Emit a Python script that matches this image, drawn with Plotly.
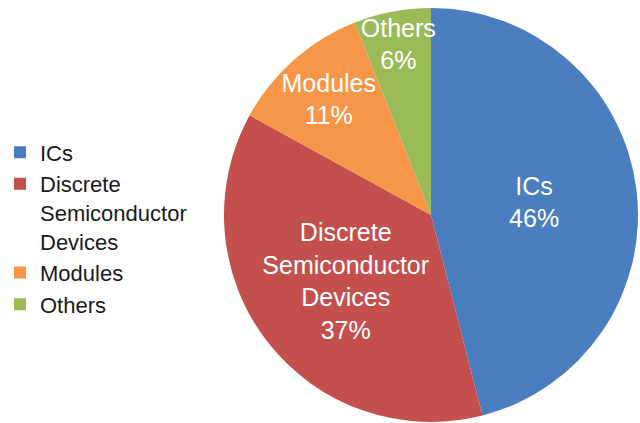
import plotly.graph_objects as go

# Share of the market by product category
categories = ["ICs", "Discrete<br>Semiconductor<br>Devices", "Modules", "Others"]
shares = [46, 37, 11, 6]
colors = ["#4A7EBF", "#C4504E", "#F79648", "#9BBB59"]

W, H = 640, 423
cx, cy, r = 431, 215, 207  # pie centre and radius in pixels

fig = go.Figure(
    go.Pie(
        labels=categories,
        values=shares,
        sort=False,
        direction="clockwise",
        rotation=0,
        marker=dict(colors=colors, line=dict(width=0)),
        texttemplate="%{label}<br>%{percent}",
        textposition="inside",
        insidetextorientation="horizontal",
        textfont=dict(family="Liberation Sans, Arial, sans-serif", size=25, color="white"),
        hoverinfo="label+percent",
        domain=dict(
            x=[(cx - r) / W, (cx + r) / W],
            y=[(H - cy - r) / H, (H - cy + r) / H],
        ),
    )
)

fig.update_layout(
    width=W,
    height=H,
    margin=dict(l=0, r=0, t=0, b=0),
    paper_bgcolor="white",
    plot_bgcolor="white",
    uniformtext=dict(minsize=25, mode="show"),
    showlegend=True,
    legend=dict(
        x=0.0,
        xanchor="left",
        y=0.46,
        yanchor="middle",
        valign="top",
        font=dict(family="Liberation Sans, Arial, sans-serif", size=22, color="#1a1a1a"),
        itemclick=False,
        bgcolor="rgba(0,0,0,0)",
    ),
)

fig.write_html("out.html")
